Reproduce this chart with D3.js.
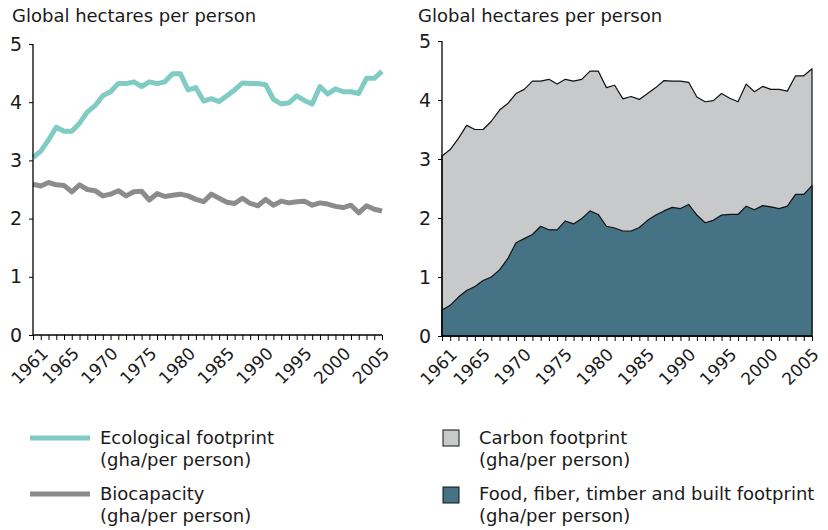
<!DOCTYPE html>
<html>
<head>
<meta charset="utf-8">
<script src="https://cdn.jsdelivr.net/npm/d3@7"></script>
<style>
  body { margin: 0; background: #fff; }
  svg { font-family: "DejaVu Sans", Verdana, sans-serif; }
</style>
</head>
<body>
<div id="chart"></div>
<script>
// data, 1961-2006, global hectares per person
const years = d3.range(1961, 2007);
const ecological = [3.05, 3.16, 3.35, 3.57, 3.50, 3.50, 3.64, 3.83, 3.94, 4.11,
  4.18, 4.32, 4.32, 4.35, 4.27, 4.35, 4.32, 4.35, 4.49, 4.49,
  4.21, 4.25, 4.02, 4.06, 4.01, 4.11, 4.21, 4.33, 4.32, 4.32,
  4.30, 4.05, 3.97, 3.99, 4.11, 4.03, 3.97, 4.27, 4.14, 4.23,
  4.18, 4.18, 4.15, 4.41, 4.41, 4.53];
const biocapacity = [2.59, 2.56, 2.62, 2.58, 2.57, 2.46, 2.58, 2.50, 2.48, 2.39,
  2.42, 2.48, 2.39, 2.46, 2.47, 2.32, 2.43, 2.38, 2.40, 2.42,
  2.39, 2.33, 2.29, 2.42, 2.35, 2.28, 2.26, 2.35, 2.26, 2.22,
  2.33, 2.23, 2.30, 2.27, 2.29, 2.30, 2.23, 2.27, 2.25, 2.21,
  2.19, 2.23, 2.10, 2.22, 2.16, 2.13];
const food = [0.44, 0.52, 0.66, 0.77, 0.84, 0.94, 1.00, 1.12, 1.31, 1.58,
  1.65, 1.72, 1.86, 1.80, 1.80, 1.95, 1.90, 1.99, 2.12, 2.06,
  1.86, 1.83, 1.78, 1.78, 1.84, 1.96, 2.05, 2.12, 2.18, 2.16,
  2.23, 2.05, 1.92, 1.96, 2.05, 2.06, 2.06, 2.20, 2.14, 2.21,
  2.19, 2.16, 2.20, 2.40, 2.40, 2.55];
const yearLabels = [1961, 1965, 1970, 1975, 1980, 1985, 1990, 1995, 2000, 2005];
const yTicks = [0, 1, 2, 3, 4, 5];

const width = 828, height = 530;
const teal = "#80cbc4", grey = "#8c8c8c";
const carbonFill = "#c8c9cb", foodFill = "#457284";
const textCol = "#1a1a1a";

const svg = d3.select("#chart").append("svg")
  .attr("width", width)
  .attr("height", height);

function drawAxes(g, x, y, titleX) {
  svg.append("text")
    .attr("x", titleX).attr("y", 22)
    .attr("font-size", "18px").attr("fill", textCol)
    .text("Global hectares per person");

  g.append("g")
    .attr("transform", `translate(${x.range()[0]},0)`)
    .call(d3.axisLeft(y).tickValues(yTicks).tickSize(4).tickPadding(7).tickFormat(d3.format("d")))
    .call(a => a.select(".domain").attr("d", `M0,${y.range()[0]}V${y.range()[1]}`).attr("stroke-width", 1.3))
    .call(a => a.selectAll("text").attr("font-size", "19px").attr("fill", textCol).attr("font-family", "DejaVu Sans"));

  const xa = g.append("g")
    .attr("transform", `translate(0,${y(0)})`)
    .call(d3.axisBottom(x).tickValues(years).tickSize(5)
      .tickFormat(d => yearLabels.includes(d) ? d : ""))
    .call(a => a.select(".domain").attr("d", `M${x.range()[0]},0H${x.range()[1]}`).attr("stroke-width", 1.3));
  xa.selectAll("text")
    .attr("font-size", "17px").attr("fill", textCol).attr("font-family", "DejaVu Sans")
    .attr("text-anchor", "end")
    .attr("dy", 0)
    .attr("transform", "translate(10,14) rotate(-45)");
}

// left chart: lines
const xL = d3.scaleLinear().domain([1961, 2006]).range([33, 382]);
const yL = d3.scaleLinear().domain([0, 5]).range([335, 44]);
const gL = svg.append("g");

const lineL = (vals) => d3.line().x((d, i) => xL(years[i])).y(d => yL(d))(vals);
gL.append("path").attr("d", lineL(biocapacity))
  .attr("fill", "none").attr("stroke", grey).attr("stroke-width", 5).attr("stroke-linejoin", "round");
gL.append("path").attr("d", lineL(ecological))
  .attr("fill", "none").attr("stroke", teal).attr("stroke-width", 5).attr("stroke-linejoin", "round");
drawAxes(gL, xL, yL, 12);

// right chart: stacked areas
const xR = d3.scaleLinear().domain([1961, 2006]).range([442, 812]);
const yR = d3.scaleLinear().domain([0, 5]).range([336, 41]);
const gR = svg.append("g");
const area = d3.area().x((d, i) => xR(years[i])).y0(yR(0)).y1(d => yR(d));

gR.append("path").attr("d", area(ecological))
  .attr("fill", carbonFill).attr("stroke", "#111").attr("stroke-width", 1.2).attr("stroke-linejoin", "round");
gR.append("path").attr("d", area(food))
  .attr("fill", foodFill).attr("stroke", "#111").attr("stroke-width", 1.2).attr("stroke-linejoin", "round");
drawAxes(gR, xR, yR, 418);

// legends
const legendText = (x, y, l1, l2) => {
  const t = svg.append("text").attr("x", x).attr("y", y).attr("font-size", "18px").attr("fill", textCol);
  t.append("tspan").attr("x", x).text(l1);
  t.append("tspan").attr("x", x).attr("dy", 22).text(l2);
};
svg.append("line").attr("x1", 30).attr("x2", 90).attr("y1", 438).attr("y2", 438)
  .attr("stroke", teal).attr("stroke-width", 5);
legendText(100, 444, "Ecological footprint", "(gha/per person)");
svg.append("line").attr("x1", 30).attr("x2", 90).attr("y1", 494).attr("y2", 494)
  .attr("stroke", grey).attr("stroke-width", 5);
legendText(100, 500, "Biocapacity", "(gha/per person)");

svg.append("rect").attr("x", 443).attr("y", 430).attr("width", 16).attr("height", 16)
  .attr("fill", carbonFill).attr("stroke", "#111").attr("stroke-width", 1);
legendText(479, 444, "Carbon footprint", "(gha/per person)");
svg.append("rect").attr("x", 443).attr("y", 487).attr("width", 16).attr("height", 16)
  .attr("fill", foodFill).attr("stroke", "#111").attr("stroke-width", 1);
legendText(479, 500, "Food, fiber, timber and built footprint", "(gha/per person)");
</script>
</body>
</html>
